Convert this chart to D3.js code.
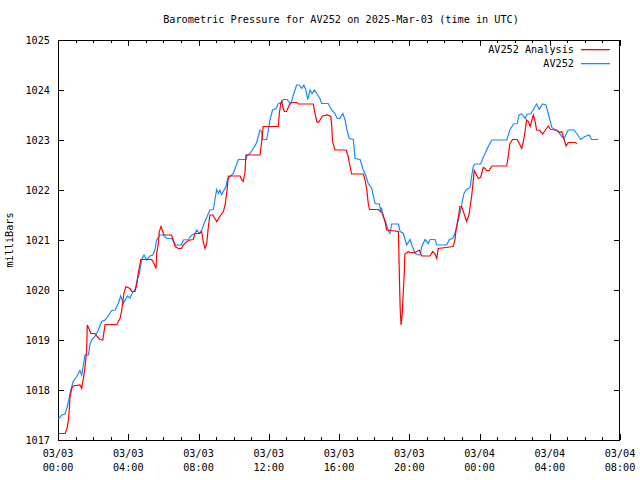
<!DOCTYPE html>
<html><head><meta charset="utf-8">
<script src="https://cdn.jsdelivr.net/npm/d3@7"></script>
<style>
body{margin:0;background:#fff;}
text{font-family:"DejaVu Sans Mono","Liberation Mono",monospace;font-size:10.2px;fill:#000;}
</style></head>
<body><svg id="c" width="640" height="480"></svg>
<script>
// minutes after 2025-03-03 00:00 UTC
const analysisMin = [1,24,30,35,39,41,47,52,75,81,86,92,98,100,107,112,126,134,143,153,161,201,212,218,225,232,246,252,263,269,274,283,320,328,335,337,343,346,352,358,362,388,394,400,411,422,428,440,451,462,468,485,491,496,502,508,513,519,529,536,542,553,565,571,574,578,582,622,628,633,639,642,690,696,701,753,756,761,764,768,773,781,790,798,815,821,872,878,884,890,895,904,920,932,935,938,946,984,990,998,1003,1043,1049,1055,1060,1064,1094,1109,1114,1117,1123,1163,1166,1169,1172,1176,1180,1183,1185,1197,1203,1220,1234,1243,1271,1280,1288,1294,1299,1350,1356,1360,1368,1373,1379,1387,1396,1404,1413,1419,1422,1430,1436,1444,1453,1459,1464,1473,1482,1533,1538,1544,1553,1569,1576,1584,1590,1596,1601,1607,1613,1619,1624,1630,1635,1646,1656,1664,1675,1683,1704,1713,1721,1729,1736,1743,1766,1774];
const analysisVal = [1017.13,1017.13,1017.21,1017.37,1017.63,1017.87,1018.03,1018.08,1018.1,1018.03,1018.21,1018.43,1018.8,1019.3,1019.21,1019.13,1019.13,1019.07,1019.01,1019.0,1019.31,1019.31,1019.43,1019.6,1019.93,1020.07,1020.03,1019.97,1019.97,1020.1,1020.33,1020.61,1020.61,1020.53,1020.43,1020.73,1020.93,1021.17,1021.27,1021.17,1021.1,1021.1,1021.0,1020.87,1020.83,1020.83,1020.9,1020.97,1021.0,1021.01,1021.13,1021.13,1021.17,1020.97,1020.83,1020.93,1021.23,1021.5,1021.5,1021.43,1021.37,1021.47,1021.57,1021.7,1021.83,1022.03,1022.28,1022.28,1022.2,1022.17,1022.37,1022.7,1022.7,1022.97,1023.27,1023.27,1023.53,1023.72,1023.77,1023.67,1023.57,1023.57,1023.7,1023.75,1023.75,1023.72,1023.72,1023.53,1023.37,1023.35,1023.4,1023.48,1023.5,1023.47,1023.3,1022.97,1022.8,1022.8,1022.7,1022.47,1022.32,1022.32,1022.2,1022.0,1021.73,1021.61,1021.61,1021.53,1021.43,1021.37,1021.2,1021.17,1020.33,1019.63,1019.3,1019.53,1020.0,1020.33,1020.72,1020.77,1020.75,1020.75,1020.8,1020.68,1020.68,1020.77,1020.72,1020.63,1020.83,1020.87,1021.0,1021.2,1021.47,1021.67,1021.67,1021.53,1021.37,1021.5,1021.87,1022.2,1022.39,1022.3,1022.23,1022.25,1022.45,1022.43,1022.39,1022.39,1022.48,1022.48,1022.67,1022.93,1023.01,1023.01,1022.93,1022.83,1022.97,1023.19,1023.4,1023.37,1023.27,1023.4,1023.5,1023.37,1023.2,1023.19,1023.12,1023.19,1023.28,1023.21,1023.2,1023.15,1023.17,1023.01,1022.88,1022.95,1022.95,1022.93];
const stationMin = [1,13,24,30,35,41,47,52,64,75,81,86,92,104,109,115,126,138,149,161,172,183,195,206,214,223,237,246,255,263,271,278,286,294,303,314,324,331,337,348,360,371,388,394,403,422,428,445,457,468,474,483,491,502,508,519,531,536,542,548,553,559,574,578,588,599,611,616,642,647,656,667,679,684,690,696,699,713,718,724,733,745,753,764,770,783,793,798,804,810,815,824,833,840,847,853,861,868,876,884,895,901,923,935,946,954,963,973,981,986,995,1009,1015,1032,1043,1049,1060,1072,1083,1098,1103,1105,1111,1117,1128,1134,1140,1163,1169,1180,1191,1203,1209,1220,1231,1237,1243,1254,1265,1271,1288,1294,1328,1337,1348,1356,1362,1373,1379,1387,1396,1408,1413,1419,1425,1444,1451,1459,1470,1482,1533,1544,1556,1569,1575,1584,1596,1603,1615,1624,1635,1644,1655,1667,1675,1687,1701,1709,1721,1729,1736,1743,1763,1772,1786,1800,1815,1823,1846];
const stationVal = [1017.42,1017.5,1017.52,1017.63,1017.75,1017.92,1018.07,1018.17,1018.27,1018.39,1018.3,1018.47,1018.7,1018.7,1018.9,1019.0,1019.07,1019.2,1019.37,1019.4,1019.48,1019.59,1019.6,1019.73,1019.88,1019.73,1019.88,1019.84,1019.95,1020.0,1020.21,1020.33,1020.61,1020.7,1020.6,1020.68,1020.7,1020.8,1021.0,1021.1,1021.1,1021.03,1021.03,1020.97,1020.9,1020.9,1021.0,1021.01,1021.1,1021.13,1021.2,1021.13,1021.2,1021.37,1021.45,1021.6,1021.61,1021.8,1022.01,1021.93,1022.0,1021.91,1022.07,1022.2,1022.27,1022.33,1022.53,1022.61,1022.61,1022.7,1022.73,1022.83,1022.95,1023.07,1023.2,1023.17,1023.01,1023.01,1023.17,1023.4,1023.6,1023.63,1023.73,1023.75,1023.81,1023.81,1023.73,1023.77,1023.9,1024.0,1024.1,1024.1,1024.03,1024.1,1024.0,1023.81,1024.0,1023.93,1024.0,1023.93,1023.83,1023.73,1023.73,1023.6,1023.53,1023.43,1023.43,1023.53,1023.4,1023.23,1023.03,1023.01,1022.63,1022.61,1022.4,1022.33,1022.13,1022.03,1021.73,1021.72,1021.57,1021.65,1021.47,1021.4,1021.2,1021.13,1021.32,1021.32,1021.17,1021.13,1020.9,1021.01,1020.9,1020.73,1020.7,1020.7,1020.87,1021.01,1020.93,1021.01,1021.01,1020.9,1020.9,1021.01,1021.03,1021.13,1021.27,1021.53,1021.7,1021.93,1022.01,1022.05,1022.27,1022.48,1022.52,1022.52,1022.63,1022.73,1022.87,1023.0,1023.0,1023.2,1023.32,1023.33,1023.5,1023.52,1023.43,1023.52,1023.52,1023.61,1023.72,1023.61,1023.72,1023.7,1023.53,1023.25,1023.19,1023.17,1023.07,1023.03,1023.12,1023.2,1023.2,1023.13,1023.01,1023.07,1023.1,1023.01,1023.01];
const yTicks = [1017,1018,1019,1020,1021,1022,1023,1024,1025];
const seriesNames = ["AV252 Analysis","AV252"];
const seriesColors = ["#ff0000","#1a88ff"];
const titleText = "Barometric Pressure for AV252 on 2025-Mar-03 (time in UTC)";
const yLabel = "milliBars";

const t0 = Date.UTC(2025,2,3,0,0);
const toDate = m => new Date(t0 + m*60000);
const m = {l:58,r:620,t:40,b:440};
const svg = d3.select("#c");
const x = d3.scaleUtc().domain([toDate(0), toDate(32*60)]).range([m.l,m.r]);
const y = d3.scaleLinear().domain([1017,1025]).range([m.b,m.t]);

svg.append("text").attr("x",(m.l+m.r)/2+2).attr("y",23).attr("text-anchor","middle").text(titleText);
svg.append("text").attr("transform",`translate(13,${(m.t+m.b)/2}) rotate(-90)`).attr("text-anchor","middle").text(yLabel);

const g = svg.append("g").attr("shape-rendering","crispEdges");
const majorX = d3.utcHour.every(4).range(toDate(0), toDate(32*60+1));
const minorX = d3.utcHour.every(1).range(toDate(0), toDate(32*60+1));
minorX.forEach(d=>{
  const big = d.getUTCHours()%4===0;
  const L = big?6:3;
  const xx = Math.round(x(d))+0.5;
  g.append("line").attr("x1",xx).attr("x2",xx).attr("y1",m.b).attr("y2",m.b-L).attr("stroke","#000");
  g.append("line").attr("x1",xx).attr("x2",xx).attr("y1",m.t).attr("y2",m.t+L).attr("stroke","#000");
});
yTicks.forEach(v=>{
  const yy = Math.round(y(v))+0.5;
  g.append("line").attr("x1",m.l).attr("x2",m.l+6).attr("y1",yy).attr("y2",yy).attr("stroke","#000");
  g.append("line").attr("x1",m.r).attr("x2",m.r-6).attr("y1",yy).attr("y2",yy).attr("stroke","#000");
  svg.append("text").attr("x",50).attr("y",y(v)+4).attr("text-anchor","end").text(d3.format("d")(v));
});
const fmtD = d3.utcFormat("%m/%d"), fmtT = d3.utcFormat("%H:%M");
majorX.forEach(d=>{
  svg.append("text").attr("x",x(d)).attr("y",457).attr("text-anchor","middle").text(fmtD(d));
  svg.append("text").attr("x",x(d)).attr("y",471).attr("text-anchor","middle").text(fmtT(d));
});

svg.append("clipPath").attr("id","cp").append("rect").attr("x",m.l).attr("y",m.t).attr("width",m.r-m.l).attr("height",m.b-m.t);
const line = d3.line().x(d=>x(toDate(d[0]))).y(d=>y(d[1]));
const seriesData = [d3.zip(analysisMin, analysisVal), d3.zip(stationMin, stationVal)];
[1,0].forEach(i=>{
  svg.append("path").attr("d",line(seriesData[i])).attr("fill","none").attr("stroke",seriesColors[i]).attr("stroke-width",1.2).attr("clip-path","url(#cp)");
});

g.append("rect").attr("x",m.l+0.5).attr("y",m.t+0.5).attr("width",m.r-m.l-1).attr("height",m.b-m.t).attr("fill","none").attr("stroke","#000");

seriesNames.forEach((n,i)=>{
  const ly = 49 + i*13.5;
  svg.append("text").attr("x",574).attr("y",ly+4).attr("text-anchor","end").text(n);
  svg.append("rect").attr("x",581).attr("y",Math.round(ly)).attr("width",29).attr("height",1.3).attr("fill",seriesColors[i]);
});
</script></body></html>
